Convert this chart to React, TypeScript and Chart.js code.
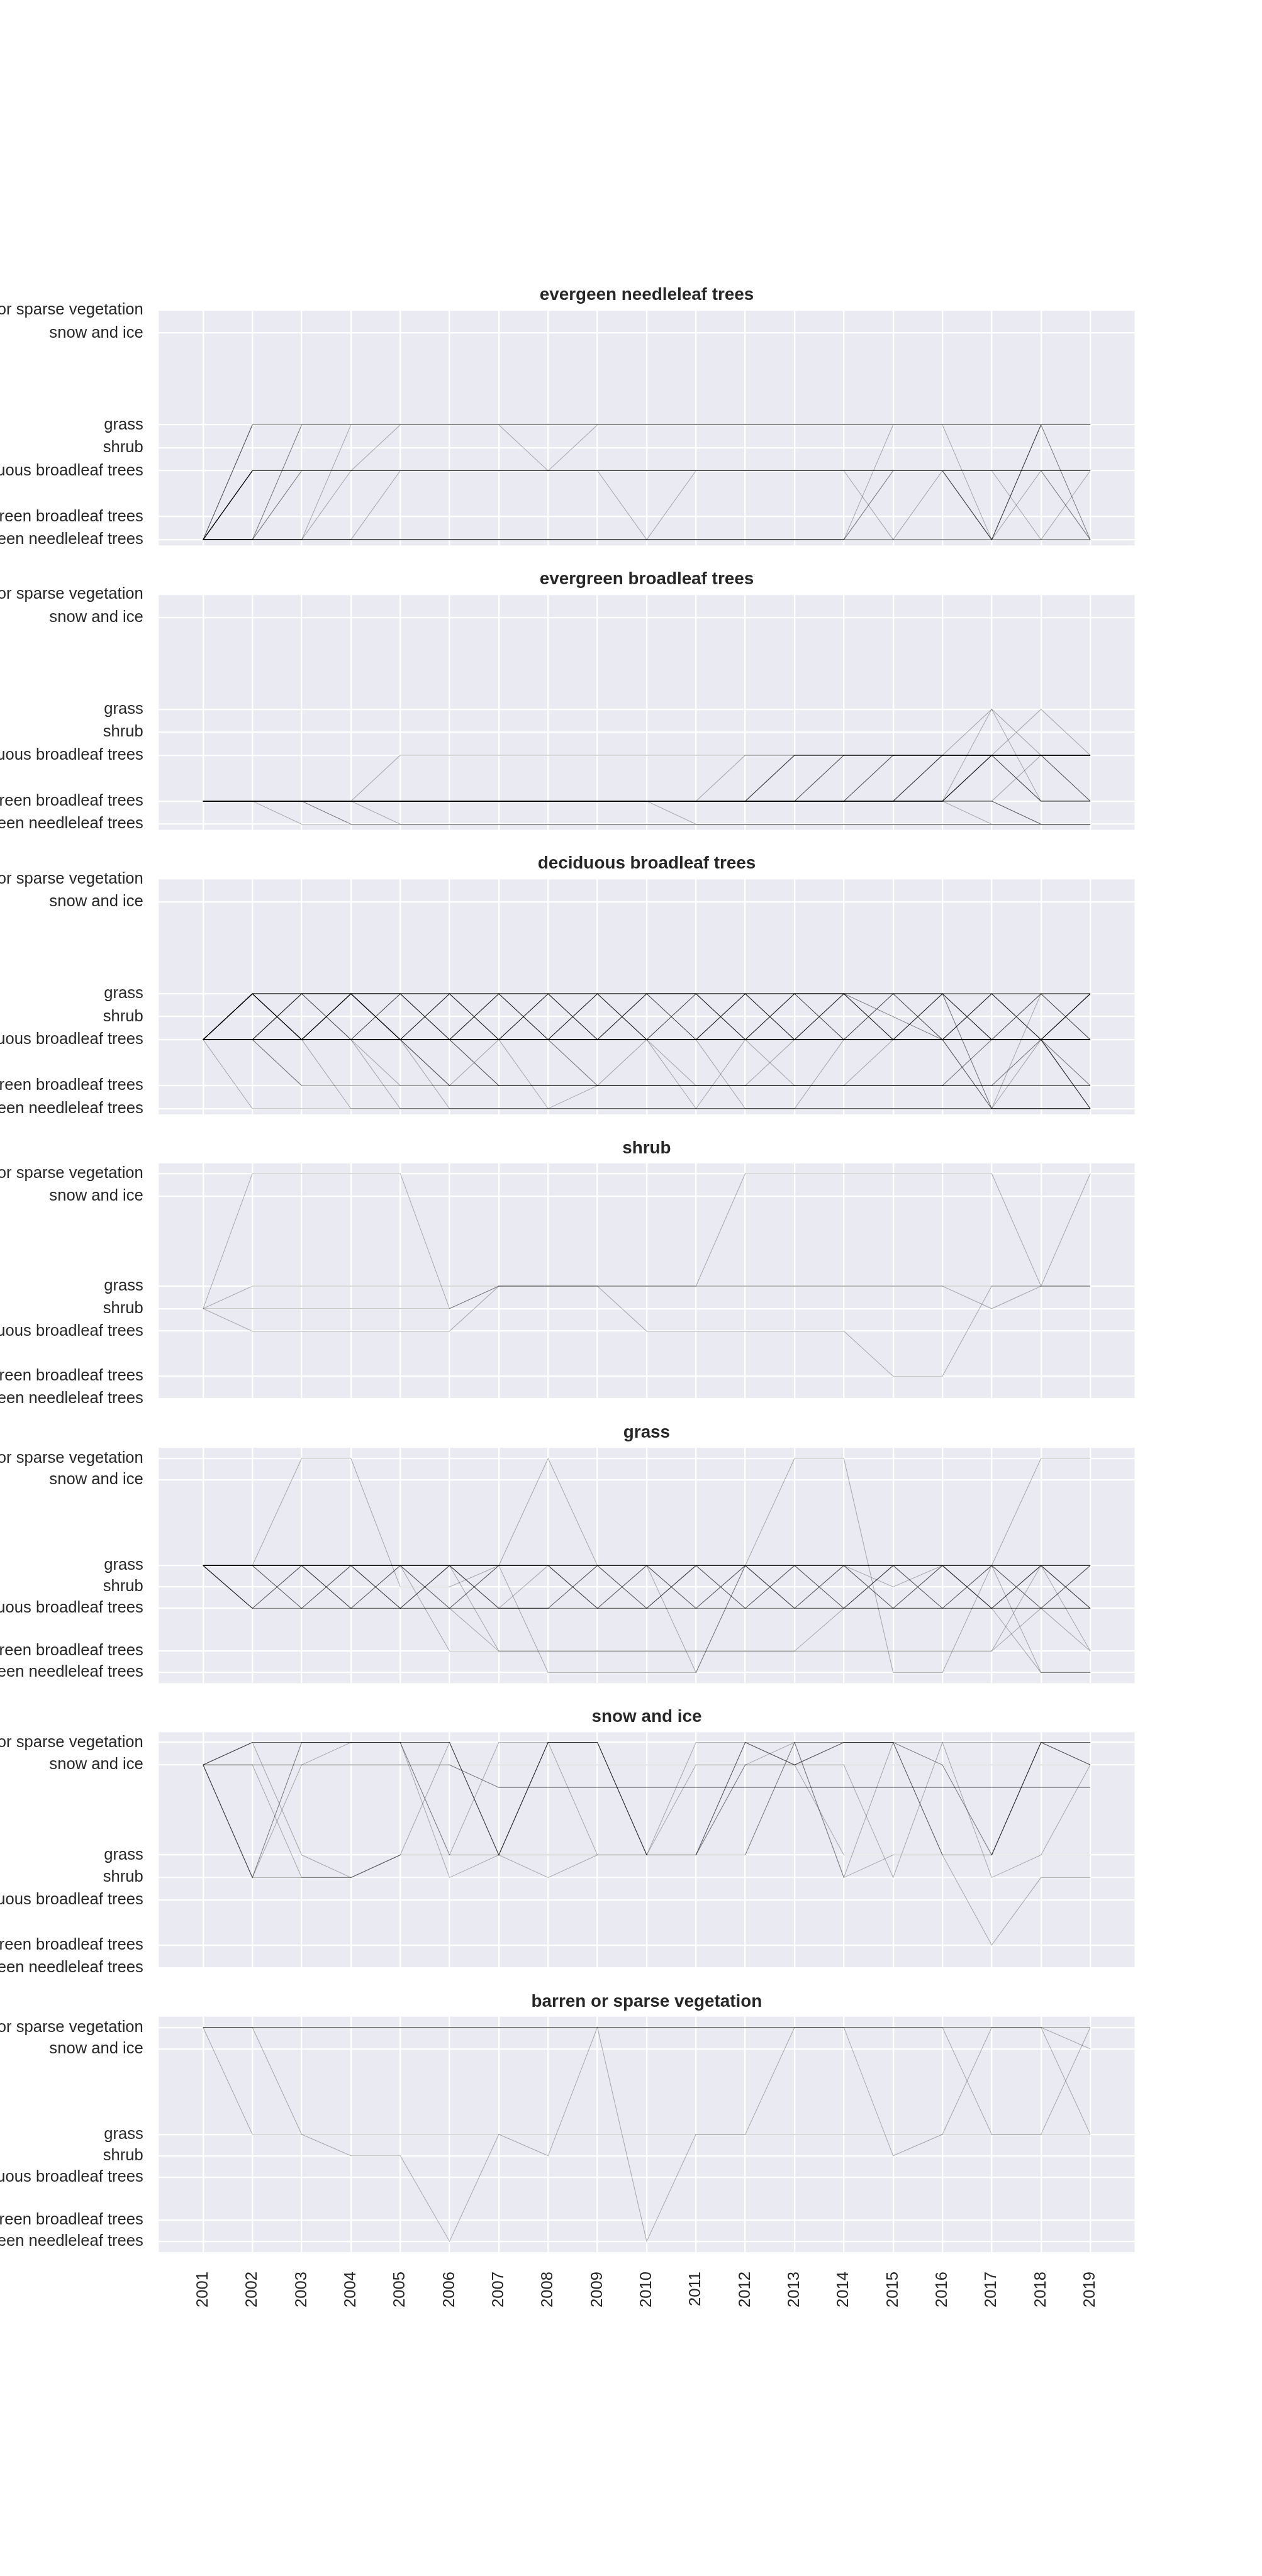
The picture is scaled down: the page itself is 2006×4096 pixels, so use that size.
import React, { useEffect, useRef } from "react";
import { Chart, registerables } from "chart.js";

Chart.register(...registerables);

// ---------------- data ----------------
const YEARS = [2001, 2002, 2003, 2004, 2005, 2006, 2007, 2008, 2009, 2010, 2011, 2012, 2013, 2014, 2015, 2016, 2017, 2018, 2019];

const CLASS_VALUES = [0, 1, 3, 4, 5, 9, 10];
const CLASS_NAMES = [
  "evergeen needleleaf trees",
  "evergreen broadleaf trees",
  "deciduous broadleaf trees",
  "shrub",
  "grass",
  "snow and ice",
  "barren or sparse vegetation",
];

const PANEL_TITLES = [
  "evergeen needleleaf trees",
  "evergreen broadleaf trees",
  "deciduous broadleaf trees",
  "shrub",
  "grass",
  "snow and ice",
  "barren or sparse vegetation",
];

// class of each tracked pixel, year by year (2001..2019)
const NEEDLE_PATHS = [
  [0, 3, 3, 3, 3, 3, 3, 3, 3, 3, 3, 3, 3, 3, 3, 3, 3, 3, 3],
  [0, 5, 5, 5, 5, 5, 5, 5, 5, 5, 5, 5, 5, 5, 5, 5, 5, 5, 5],
  [0, 0, 5, 5, 5, 5, 5, 5, 5, 5, 5, 5, 5, 5, 5, 5, 5, 5, 5],
  [0, 0, 3, 3, 3, 3, 3, 3, 3, 3, 3, 3, 3, 3, 3, 3, 3, 3, 3],
  [0, 0, 0, 5, 5, 5, 5, 5, 5, 5, 5, 5, 5, 5, 5, 5, 5, 5, 5],
  [0, 0, 0, 3, 5, 5, 5, 5, 5, 5, 5, 5, 5, 5, 5, 5, 5, 5, 5],
  [0, 0, 0, 0, 3, 3, 3, 3, 3, 3, 3, 3, 3, 3, 3, 3, 3, 3, 3],
  [0, 5, 5, 5, 5, 5, 5, 3, 5, 5, 5, 5, 5, 5, 5, 5, 5, 5, 5],
  [0, 3, 3, 3, 3, 3, 3, 3, 3, 0, 3, 3, 3, 3, 3, 3, 3, 3, 3],
  [0, 0, 0, 0, 0, 0, 0, 0, 0, 0, 0, 0, 0, 0, 5, 5, 5, 5, 5],
  [0, 0, 0, 0, 0, 0, 0, 0, 0, 0, 0, 0, 0, 0, 3, 3, 0, 5, 0],
  [0, 0, 0, 0, 0, 0, 0, 0, 0, 0, 0, 0, 0, 0, 0, 3, 3, 0, 3],
  [0, 3, 3, 3, 3, 3, 3, 3, 3, 3, 3, 3, 3, 3, 0, 0, 0, 0, 0],
  [0, 5, 5, 5, 5, 5, 5, 5, 5, 5, 5, 5, 5, 5, 5, 5, 0, 3, 3],
  [0, 3, 3, 3, 3, 3, 3, 3, 3, 3, 3, 3, 3, 3, 3, 3, 0, 5, 5],
  [0, 3, 3, 3, 3, 3, 3, 3, 3, 3, 3, 3, 3, 3, 3, 3, 3, 3, 0],
  [0, 0, 0, 0, 0, 0, 0, 0, 0, 0, 0, 0, 0, 0, 0, 0, 0, 0, 0],
];
const NEEDLE_COUNTS = [4, 1, 2, 2, 1, 1, 1, 1, 1, 1, 2, 1, 1, 1, 2, 2, 2];

const BROAD_PATHS = [
  [1, 1, 0, 0, 0, 0, 0, 0, 0, 0, 0, 0, 0, 0, 0, 0, 0, 0, 0],
  [1, 1, 1, 0, 0, 0, 0, 0, 0, 0, 0, 0, 0, 0, 0, 0, 0, 0, 0],
  [1, 1, 1, 1, 0, 0, 0, 0, 0, 0, 0, 0, 0, 0, 0, 0, 0, 0, 0],
  [1, 1, 1, 1, 3, 3, 3, 3, 3, 3, 3, 3, 3, 3, 3, 3, 3, 3, 3],
  [1, 1, 1, 1, 1, 1, 1, 1, 1, 1, 0, 0, 0, 0, 0, 0, 0, 0, 0],
  [1, 1, 1, 1, 1, 1, 1, 1, 1, 1, 1, 3, 3, 3, 3, 3, 3, 3, 3],
  [1, 1, 1, 1, 1, 1, 1, 1, 1, 1, 1, 1, 3, 3, 3, 3, 3, 3, 3],
  [1, 1, 1, 1, 1, 1, 1, 1, 1, 1, 1, 1, 1, 3, 3, 3, 3, 3, 3],
  [1, 1, 1, 1, 1, 1, 1, 1, 1, 1, 1, 1, 1, 1, 3, 3, 3, 3, 3],
  [1, 1, 1, 1, 1, 1, 1, 1, 1, 1, 1, 1, 1, 1, 1, 3, 3, 3, 3],
  [1, 1, 1, 1, 1, 1, 1, 1, 1, 1, 1, 1, 1, 1, 1, 1, 3, 1, 1],
  [1, 1, 1, 1, 1, 1, 1, 1, 1, 1, 1, 1, 1, 1, 1, 1, 0, 0, 0],
  [1, 1, 1, 1, 1, 1, 1, 1, 1, 1, 1, 1, 1, 1, 1, 1, 1, 0, 0],
  [1, 1, 1, 1, 1, 1, 1, 1, 1, 1, 1, 1, 1, 1, 1, 1, 1, 3, 3],
  [1, 1, 1, 1, 1, 1, 1, 1, 1, 1, 1, 1, 1, 1, 1, 1, 3, 3, 1],
  [1, 1, 1, 1, 1, 1, 1, 1, 1, 1, 1, 1, 3, 3, 3, 3, 5, 3, 3],
  [1, 1, 1, 1, 1, 1, 1, 1, 1, 1, 1, 1, 1, 1, 1, 1, 5, 1, 1],
  [1, 1, 1, 1, 1, 1, 1, 1, 1, 1, 1, 1, 1, 1, 1, 3, 3, 5, 3],
];
const BROAD_COUNTS = [1, 2, 1, 1, 1, 1, 3, 3, 3, 3, 4, 1, 3, 1, 3, 1, 1, 1];

const DECID_PATHS = [
  [3, 3, 3, 3, 3, 3, 3, 3, 3, 3, 3, 3, 3, 3, 3, 3, 3, 3, 3],
  [3, 5, 5, 5, 5, 5, 5, 5, 5, 5, 5, 5, 5, 5, 5, 5, 5, 5, 5],
  [3, 5, 3, 5, 3, 5, 3, 5, 3, 5, 3, 5, 3, 5, 3, 5, 3, 5, 3],
  [3, 3, 5, 3, 5, 3, 5, 3, 5, 3, 5, 3, 5, 3, 5, 3, 5, 3, 5],
  [3, 5, 3, 5, 5, 3, 3, 5, 3, 5, 5, 3, 5, 5, 4, 3, 5, 3, 5],
  [3, 3, 5, 5, 3, 3, 5, 3, 5, 3, 3, 5, 3, 5, 3, 5, 3, 3, 5],
  [3, 0, 0, 0, 0, 0, 0, 0, 0, 0, 0, 0, 0, 0, 0, 0, 0, 0, 0],
  [3, 3, 1, 1, 1, 1, 1, 1, 1, 1, 1, 1, 1, 1, 1, 1, 1, 1, 1],
  [3, 3, 3, 0, 0, 0, 0, 0, 0, 0, 0, 0, 0, 0, 0, 0, 0, 0, 0],
  [3, 5, 3, 3, 0, 0, 0, 0, 0, 0, 0, 0, 0, 0, 0, 0, 0, 0, 0],
  [3, 3, 3, 3, 1, 1, 1, 1, 1, 1, 1, 1, 1, 1, 1, 1, 1, 1, 1],
  [3, 3, 3, 3, 3, 1, 1, 1, 1, 1, 1, 1, 1, 1, 1, 1, 3, 3, 3],
  [3, 3, 3, 3, 3, 0, 0, 0, 0, 0, 0, 0, 0, 0, 0, 0, 0, 0, 0],
  [3, 5, 3, 5, 3, 3, 1, 1, 1, 1, 1, 1, 1, 1, 1, 1, 1, 1, 1],
  [3, 3, 1, 1, 1, 1, 3, 3, 3, 3, 3, 3, 3, 3, 3, 3, 3, 3, 3],
  [3, 3, 3, 3, 3, 3, 3, 0, 1, 1, 1, 1, 1, 1, 1, 1, 1, 1, 1],
  [3, 5, 3, 5, 3, 5, 3, 3, 1, 1, 1, 1, 1, 1, 1, 1, 1, 3, 0],
  [3, 3, 3, 3, 3, 1, 1, 1, 1, 3, 3, 3, 3, 3, 3, 3, 3, 3, 3],
  [3, 3, 3, 3, 3, 3, 3, 3, 3, 3, 0, 3, 3, 3, 3, 3, 3, 3, 3],
  [3, 3, 3, 3, 3, 3, 3, 3, 3, 3, 1, 1, 3, 3, 3, 3, 3, 3, 3],
  [3, 3, 3, 3, 3, 3, 3, 3, 3, 3, 3, 0, 0, 3, 3, 3, 3, 3, 3],
  [3, 3, 3, 3, 3, 3, 3, 3, 3, 3, 3, 3, 1, 1, 3, 3, 3, 3, 3],
  [3, 3, 3, 3, 3, 3, 3, 3, 3, 3, 3, 3, 3, 3, 3, 3, 0, 0, 0],
  [3, 5, 5, 5, 5, 5, 5, 5, 5, 5, 5, 5, 5, 5, 5, 5, 0, 3, 3],
  [3, 5, 5, 5, 5, 5, 5, 5, 5, 5, 5, 5, 5, 5, 5, 5, 0, 5, 5],
  [3, 3, 3, 3, 3, 3, 3, 3, 3, 3, 3, 3, 3, 3, 3, 3, 3, 3, 0],
  [3, 3, 3, 3, 3, 3, 3, 3, 3, 3, 3, 3, 3, 3, 3, 3, 3, 3, 1],
];
const DECID_COUNTS = [7, 6, 4, 4, 2, 2, 1, 1, 1, 1, 1, 2, 1, 3, 1, 1, 2, 1, 1, 1, 1, 1, 3, 1, 1, 3, 2];

const SHRUB_PATHS = [
  [4, 10, 10, 10, 10, 4, 5, 5, 5, 5, 5, 5, 5, 5, 5, 5, 5, 5, 5],
  [4, 5, 5, 5, 5, 5, 5, 5, 5, 5, 5, 5, 5, 5, 5, 5, 4, 5, 5],
  [4, 4, 4, 4, 4, 4, 5, 5, 5, 3, 3, 3, 3, 3, 1, 1, 5, 5, 5],
  [4, 3, 3, 3, 3, 3, 5, 5, 5, 5, 5, 10, 10, 10, 10, 10, 10, 5, 10],
];
const SHRUB_COUNTS = [1, 1, 1, 1];

const GRASS_PATHS = [
  [5, 5, 5, 5, 5, 5, 5, 5, 5, 5, 5, 5, 5, 5, 5, 5, 5, 5, 5],
  [5, 3, 3, 3, 3, 3, 3, 3, 3, 3, 3, 3, 3, 3, 3, 3, 3, 3, 3],
  [5, 5, 3, 5, 3, 5, 3, 3, 5, 3, 5, 3, 5, 3, 5, 3, 5, 3, 5],
  [5, 3, 5, 3, 5, 3, 5, 5, 3, 5, 3, 5, 3, 5, 3, 5, 3, 5, 3],
  [5, 5, 5, 3, 3, 5, 3, 5, 3, 3, 5, 5, 3, 3, 5, 5, 3, 5, 3],
  [5, 5, 10, 10, 4, 4, 5, 10, 5, 5, 5, 5, 10, 10, 0, 0, 5, 10, 10],
  [5, 5, 5, 5, 5, 1, 1, 1, 1, 1, 1, 1, 1, 3, 3, 3, 3, 3, 3],
  [5, 5, 5, 5, 3, 3, 1, 1, 1, 1, 1, 1, 1, 1, 1, 1, 1, 3, 1],
  [5, 5, 5, 5, 5, 5, 1, 1, 1, 1, 1, 1, 1, 1, 1, 1, 1, 5, 1],
  [5, 5, 5, 5, 5, 5, 5, 0, 0, 0, 0, 5, 5, 5, 5, 5, 5, 5, 5],
  [5, 5, 5, 5, 5, 5, 5, 5, 5, 5, 0, 5, 5, 5, 5, 5, 5, 5, 5],
  [5, 5, 5, 5, 5, 5, 5, 5, 5, 5, 5, 5, 5, 5, 5, 5, 5, 0, 0],
  [5, 5, 5, 5, 5, 5, 5, 5, 5, 5, 5, 5, 5, 5, 5, 5, 3, 0, 0],
  [5, 5, 5, 5, 5, 5, 5, 5, 5, 5, 5, 5, 5, 5, 4, 5, 5, 5, 5],
];
const GRASS_COUNTS = [6, 3, 3, 3, 1, 1, 1, 1, 1, 1, 1, 1, 1, 1];

const SNOW_PATHS = [
  [9, 10, 10, 10, 10, 10, 5, 10, 10, 5, 5, 10, 9, 10, 10, 5, 5, 10, 10],
  [9, 4, 10, 10, 10, 5, 5, 10, 10, 5, 5, 5, 10, 10, 10, 9, 5, 10, 9],
  [9, 9, 9, 9, 9, 9, 8, 8, 8, 8, 8, 8, 8, 8, 8, 8, 8, 8, 8],
  [9, 9, 9, 9, 9, 9, 9, 9, 9, 9, 9, 9, 9, 9, 9, 9, 9, 9, 9],
  [9, 4, 4, 4, 5, 5, 5, 4, 5, 5, 10, 10, 10, 4, 10, 10, 10, 10, 9],
  [9, 10, 5, 4, 5, 10, 5, 5, 5, 5, 5, 9, 9, 5, 5, 5, 1, 4, 4],
  [9, 4, 9, 10, 10, 4, 5, 5, 5, 5, 5, 9, 10, 4, 5, 5, 5, 5, 9],
  [9, 9, 4, 4, 5, 5, 10, 10, 5, 5, 9, 9, 9, 9, 4, 10, 4, 5, 5],
];
const SNOW_COUNTS = [3, 2, 2, 1, 1, 1, 1, 1];

const BARREN_PATHS = [
  [10, 5, 5, 5, 5, 5, 5, 5, 5, 5, 5, 5, 10, 10, 4, 5, 10, 10, 5],
  [10, 10, 5, 4, 4, 0, 5, 4, 10, 0, 5, 5, 5, 5, 5, 5, 5, 5, 10],
  [10, 10, 10, 10, 10, 10, 10, 10, 10, 10, 10, 10, 10, 10, 10, 10, 5, 5, 5],
  [10, 10, 10, 10, 10, 10, 10, 10, 10, 10, 10, 10, 10, 10, 10, 10, 10, 10, 9],
  [10, 10, 10, 10, 10, 10, 10, 10, 10, 10, 10, 10, 10, 10, 10, 10, 10, 10, 10],
];
const BARREN_COUNTS = [1, 1, 1, 1, 2];

// y view limits of each panel
const Y_MIN = [-0.25, -0.25, -0.25, 0, -0.5, 0, -0.5];
const Y_MAX = [10, 10, 10, 10.45, 10.5, 10.45, 10.5];
const X_MIN = 2000.1;
const X_MAX = 2019.9;

const PANELS = [
  { title: PANEL_TITLES[0], paths: NEEDLE_PATHS, counts: NEEDLE_COUNTS },
  { title: PANEL_TITLES[1], paths: BROAD_PATHS, counts: BROAD_COUNTS },
  { title: PANEL_TITLES[2], paths: DECID_PATHS, counts: DECID_COUNTS },
  { title: PANEL_TITLES[3], paths: SHRUB_PATHS, counts: SHRUB_COUNTS },
  { title: PANEL_TITLES[4], paths: GRASS_PATHS, counts: GRASS_COUNTS },
  { title: PANEL_TITLES[5], paths: SNOW_PATHS, counts: SNOW_COUNTS },
  { title: PANEL_TITLES[6], paths: BARREN_PATHS, counts: BARREN_COUNTS },
];

// ---------------- layout / style ----------------
const S = 0.557;
const FIG_W = 2006;
const FIG_H = 4096;
const AXES_LEFT = 453 * S;
const AXES_RIGHT = 3238 * S;
const AXES_TOP0 = 885 * S;
const PITCH = 812 * S;
const AXES_H = 672 * S;
const HEAD = 70;
const TICK_FONT = 46 * S;
const TITLE_FONT = 50 * S;
const TEXT_COLOR = "#262626";
const FACE = "#EAEAF2";
const FONT_FAMILY = "'Liberation Sans', Arial, Helvetica, sans-serif";
const LINE_ALPHA = 0.29;
const LINE_W = 1.05;
const GRID_W = 4.17 * S;

const facePlugin = {
  id: "faceBackground",
  beforeDraw(chart: any) {
    const { ctx, chartArea } = chart;
    if (!chartArea) return;
    ctx.save();
    ctx.fillStyle = FACE;
    ctx.fillRect(chartArea.left, chartArea.top, chartArea.right - chartArea.left, chartArea.bottom - chartArea.top);
    ctx.restore();
  },
};

function Panel({ idx }: { idx: number }) {
  const ref = useRef<HTMLCanvasElement | null>(null);
  const p = PANELS[idx];
  const isLast = idx === PANELS.length - 1;
  const axesTop = AXES_TOP0 + PITCH * idx;
  const canvasTop = Math.floor(axesTop) - HEAD;
  const chartTop = axesTop - canvasTop;
  const xh = isLast ? 170 : 0;
  const bottomMargin = 48;
  const canvasH = Math.ceil(chartTop + AXES_H + xh + bottomMargin);
  const padBottom = canvasH - chartTop - AXES_H - xh;

  useEffect(() => {
    if (!ref.current) return;
    const lineHeight = TITLE_FONT * 1.2;
    const titlePadBottom = 7.0;
    const titlePadTop = chartTop - lineHeight - titlePadBottom;
    const chart = new Chart(ref.current, {
      type: "line",
      data: {
        datasets: p.paths.map((path, k) => ({
          data: YEARS.map((yr, j) => ({ x: yr, y: path[j] })),
          borderColor: `rgba(0,0,0,${(1 - Math.pow(1 - LINE_ALPHA, p.counts[k])).toFixed(3)})`,
          borderWidth: LINE_W,
          pointRadius: 0,
          pointHoverRadius: 0,
          tension: 0,
          fill: false,
        })),
      },
      options: {
        responsive: false,
        animation: false,
        devicePixelRatio: 1,
        events: [],
        layout: { padding: { left: 0, right: FIG_W - AXES_RIGHT, top: 0, bottom: padBottom } },
        plugins: {
          legend: { display: false },
          tooltip: { enabled: false },
          title: {
            display: true,
            text: p.title,
            fullSize: false,
            color: TEXT_COLOR,
            font: { family: FONT_FAMILY, size: TITLE_FONT, weight: "bold", lineHeight: 1.2 },
            padding: { top: titlePadTop, bottom: titlePadBottom },
          },
        },
        scales: {
          x: {
            type: "linear",
            min: X_MIN,
            max: X_MAX,
            afterBuildTicks: (axis: any) => {
              axis.ticks = YEARS.map((v) => ({ value: v }));
            },
            afterFit: (axis: any) => {
              axis.height = xh;
            },
            grid: { color: "#ffffff", lineWidth: GRID_W, drawTicks: false },
            border: { display: false },
            ticks: {
              display: isLast,
              autoSkip: false,
              minRotation: 90,
              maxRotation: 90,
              padding: 31,
              color: TEXT_COLOR,
              font: { family: FONT_FAMILY, size: TICK_FONT },
              callback: (v: any) => String(v),
            },
          },
          y: {
            type: "linear",
            min: Y_MIN[idx],
            max: Y_MAX[idx],
            afterBuildTicks: (axis: any) => {
              axis.ticks = CLASS_VALUES.map((v) => ({ value: v }));
            },
            afterFit: (axis: any) => {
              axis.width = AXES_LEFT;
            },
            grid: { color: "#ffffff", lineWidth: GRID_W, drawTicks: false },
            border: { display: false },
            ticks: {
              autoSkip: false,
              padding: 24.5,
              color: TEXT_COLOR,
              font: { family: FONT_FAMILY, size: TICK_FONT },
              callback: (v: any) => {
                const k = CLASS_VALUES.indexOf(Number(v));
                return k >= 0 ? CLASS_NAMES[k] : "";
              },
            },
          },
        },
      } as any,
      plugins: [facePlugin],
    });
    return () => chart.destroy();
  }, []);

  return (
    <canvas
      ref={ref}
      width={FIG_W}
      height={canvasH}
      style={{ position: "absolute", left: 0, top: canvasTop, width: FIG_W, height: canvasH, display: "block" }}
    />
  );
}

export default function App() {
  return (
    <div
      style={{
        position: "absolute",
        left: 0,
        top: 0,
        width: FIG_W,
        height: FIG_H,
        background: "#ffffff",
        overflow: "hidden",
      }}
    >
      {PANELS.map((_, i) => (
        <Panel key={i} idx={i} />
      ))}
    </div>
  );
}
